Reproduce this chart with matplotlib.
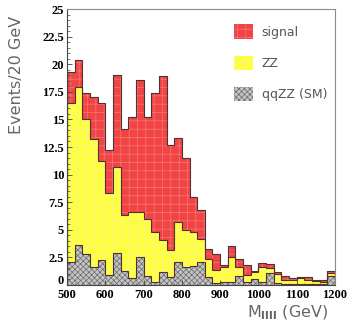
import numpy as np
import matplotlib.pyplot as plt
import matplotlib.transforms as mtransforms
from matplotlib.patches import Patch
from matplotlib.ticker import FixedLocator, MultipleLocator

# 20 GeV bins from 500 to 1200 GeV
edges = np.arange(500, 1201, 20)

# events per bin, one list per stacked contribution (bottom to top)
qqzz = [2.1, 3.6, 2.8, 1.6, 2.3, 0.9, 2.9, 1.3, 0.6, 2.5, 0.8, 0.3, 1.2, 0.75, 2.1,
        1.65, 1.7, 2.1, 0.75, 0.2, 0.3, 0.3, 0.8, 0.3, 0.5, 0.3, 1.1, 0.2, 0.1, 0.1,
        0.1, 0.1, 0.1, 0.1, 0.85]
zz = [14.4, 14.3, 12.2, 11.6, 8.9, 7.4, 7.8, 5.0, 6.0, 4.1, 5.2, 4.5, 2.9, 2.45, 3.6,
      3.35, 3.1, 2.1, 1.65, 1.2, 1.3, 2.2, 0.85, 0.6, 0.7, 1.3, 0.45, 0.8, 0.35, 0.35,
      0.55, 0.35, 0.3, 0.2, 0.25]
signal = [2.8, 2.5, 2.4, 3.8, 5.3, 3.9, 8.3, 7.8, 8.6, 12.0, 9.2, 12.6, 14.8, 9.5, 7.6,
          6.5, 3.2, 2.6, 0.9, 1.45, 0.2, 1.05, 0.75, 0.95, 0.05, 0.4, 0.35, 0.2, 0.4, 0.15,
          0.1, 0.3, 0.05, 0.15, 0.2]

yticks = [0, 2.5, 5, 7.5, 10, 12.5, 15, 17.5, 20, 22.5, 25]
ylabels = ["0", "2.5", "5", "7.5", "10", "12.5", "15", "17.5", "20", "22.5", "25"]
xticks = [500, 600, 700, 800, 900, 1000, 1100, 1200]

plt.rcParams['hatch.linewidth'] = 0.5

fig = plt.figure(figsize=(3.48, 3.24), dpi=100)
ax = fig.add_axes([67/348, 1-285/324, 268/348, 276/324])

b0 = np.zeros(len(qqzz))
b1 = b0 + np.array(qqzz)
b2 = b1 + np.array(zz)
b3 = b2 + np.array(signal)

ax.stairs(b1, edges, baseline=b0, fill=True, facecolor="#c4c4c4",
          edgecolor="#6a6a6a", hatch="xxxxxx", linewidth=0)
ax.stairs(b2, edges, baseline=b1, fill=True, facecolor="#ffff40",
          edgecolor="#f6f690", hatch="++", linewidth=0)
ax.stairs(b3, edges, baseline=b2, fill=True, facecolor="#f24444",
          edgecolor="#f47878", hatch="++", linewidth=0)
for top in (b1, b2, b3):
    ax.stairs(top, edges, color="#503030", linewidth=0.8)

ax.set_xlim(500, 1200)
ax.set_ylim(0, 25)

ax.yaxis.set_major_locator(FixedLocator(yticks))
ax.set_yticklabels(ylabels)
ax.yaxis.set_minor_locator(MultipleLocator(0.5))
ax.xaxis.set_major_locator(FixedLocator(xticks))
ax.xaxis.set_minor_locator(MultipleLocator(20))
ax.tick_params(which="major", direction="in", length=3.5, width=0.6, color="#444", pad=2)
ax.tick_params(axis="x", which="major", pad=3)
ax.tick_params(which="minor", direction="in", length=1.8, width=0.5, color="#444")
for lab in ax.get_xticklabels() + ax.get_yticklabels():
    lab.set_family("Liberation Serif")
    lab.set_fontweight("bold")
    lab.set_fontsize(9)

# lift the "0" so it sits above the first x label
zero = ax.get_yticklabels()[0]
zero.set_transform(zero.get_transform() +
                   mtransforms.ScaledTranslation(0, 5/100, fig.dpi_scale_trans))

for s in ("left", "bottom"):
    ax.spines[s].set_color("#444")
    ax.spines[s].set_linewidth(0.8)
for s in ("top", "right"):
    ax.spines[s].set_color("#8a8a8a")
    ax.spines[s].set_linewidth(0.8)

fig.text(17/348, 1-75/324, "Events/20 GeV", rotation=90, ha="center", va="center",
         fontsize=11.5, color="#666", family="DejaVu Sans")
fig.text(288/348, 1-313/324, r"M$_{\mathbf{llll}}$ (GeV)", ha="center", va="center",
         fontsize=11.5, color="#666", family="DejaVu Sans")

handles = [Patch(facecolor="#f24444", edgecolor="#f47878", hatch="++", linewidth=0),
           Patch(facecolor="#ffff40", edgecolor="#f6f690", hatch="++", linewidth=0),
           Patch(facecolor="#c4c4c4", edgecolor="#6a6a6a", hatch="xxxxxx", linewidth=0)]
leg = ax.legend(handles, ["signal", "ZZ", "qqZZ (SM)"], loc="upper left",
                bbox_to_anchor=(228/348, 1-18/324), bbox_transform=fig.transFigure,
                frameon=False, borderpad=0, handlelength=1.5, handleheight=1.4,
                labelspacing=1.35, handletextpad=0.7,
                prop={"family": "DejaVu Sans", "size": 9})
for t in leg.get_texts():
    t.set_color("#555")

fig.savefig("out.png", dpi=100)
